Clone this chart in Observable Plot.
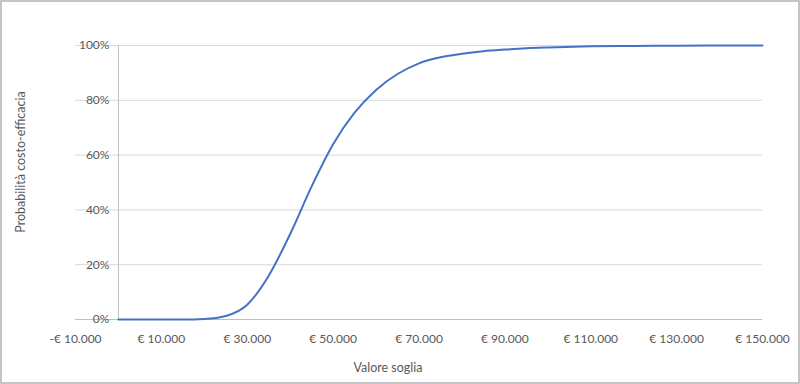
<!DOCTYPE html>
<html>
<head>
<meta charset="utf-8">
<script src="https://cdn.jsdelivr.net/npm/d3@7"></script>
<script src="https://cdn.jsdelivr.net/npm/@observablehq/plot@0.6"></script>
<style>
  html, body { margin: 0; padding: 0; background: #fff; }
  #wrap { position: relative; width: 800px; height: 384px; font-family: Lato, "Open Sans", sans-serif; }
  #border { position: absolute; left: 0; top: 0; width: 800px; height: 384px; box-sizing: border-box; border: 2px solid #c4c4c4; pointer-events: none; }
  .ttl { position: absolute; color: #595959; font-size: 12.5px; white-space: nowrap; }
  #ytitle { left: 20px; top: 162px; transform: translate(-50%, -50%) rotate(-90deg); }
  #xtitle { left: 388px; top: 367px; transform: translate(-50%, -50%); }
</style>
</head>
<body>
<div id="wrap">
  <div id="chart"></div>
  <div class="ttl" id="ytitle">Probabilità costo-efficacia</div>
  <div class="ttl" id="xtitle">Valore soglia</div>
  <div id="border"></div>
</div>
<script>
const thresholds = [0, 5000, 10000, 15000, 20000, 25000, 30000, 35000, 40000, 45000, 50000, 55000, 60000, 65000, 70000, 75000, 80000, 85000, 90000, 95000, 100000, 110000, 120000, 130000, 140000, 150000];
const probability = [0, 0, 0, 0, 0.002, 0.013, 0.054, 0.16, 0.312, 0.486, 0.64, 0.755, 0.838, 0.896, 0.935, 0.957, 0.970, 0.979, 0.985, 0.99, 0.993, 0.997, 0.9985, 0.999, 1.0, 1.0];
const xTicks = [-10000, 10000, 30000, 50000, 70000, 90000, 110000, 130000, 150000];
const yTicks = [0, 0.2, 0.4, 0.6, 0.8, 1.0];

const data = thresholds.map((t, i) => ({x: t, y: probability[i]}));
const fmtEuro = v => (v < 0 ? "-€ " : "€ ") + d3.format(",")(Math.abs(v)).replace(/,/g, ".");

const chart = Plot.plot({
  width: 800,
  height: 384,
  marginLeft: 75,
  marginRight: 38,
  marginTop: 45,
  marginBottom: 65,
  style: {fontFamily: "Lato, 'Open Sans', sans-serif", fontSize: "12px", color: "#595959", background: "transparent"},
  x: {domain: [-10000, 150000]},
  y: {domain: [0, 1], axis: null},
  marks: [
    Plot.ruleY(yTicks.slice(1), {stroke: "#d9d9d9", strokeWidth: 1, strokeOpacity: 1}),
    Plot.ruleY([0], {stroke: "#bfbfbf", strokeWidth: 1, strokeOpacity: 1}),
    Plot.ruleX([0], {stroke: "#bfbfbf", strokeWidth: 1, strokeOpacity: 1}),
    Plot.text(yTicks, {x: 0, y: d => d, text: d => Math.round(d * 100) + "%", textAnchor: "end", dx: -9, fill: "#595959", fontSize: 12}),
    Plot.axisX(xTicks, {tickSize: 0, tickPadding: 15, tickFormat: fmtEuro, label: null, fill: "#595959", fontSize: 12}),
    Plot.line(data, {x: "x", y: "y", stroke: "#4472c4", strokeWidth: 2, curve: "monotone-x"})
  ]
});
document.getElementById("chart").appendChild(chart);
</script>
</body>
</html>
